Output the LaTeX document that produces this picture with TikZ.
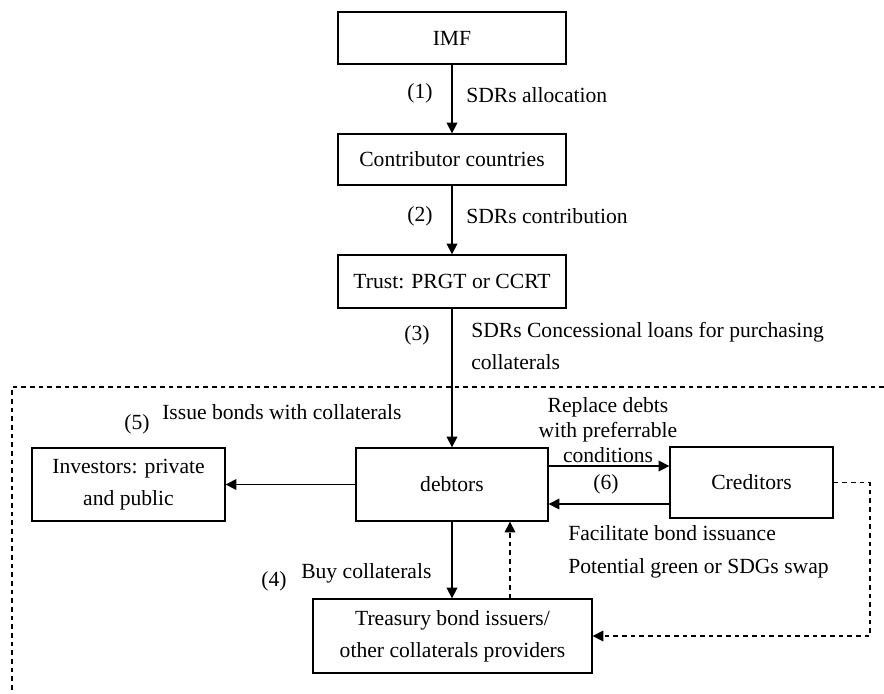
\documentclass[tikz,border=0pt]{standalone}
\usepackage{fontspec}
\setmainfont{Liberation Serif}
\usetikzlibrary{arrows.meta,calc}
\begin{document}
\begin{tikzpicture}[x=0.75pt,y=-0.75pt,
 box/.style={draw,line width=1pt,inner sep=0pt,align=center,font=\fontsize{16.2}{24}\selectfont},
 lbl/.style={inner sep=0pt,font=\fontsize{16.2}{24}\selectfont},
 arr/.style={line width=1pt,-{Triangle[length=8pt,width=8pt]}},
 dsh/.style={dash pattern=on 3.5pt off 3pt}]
\useasboundingbox (0,0) rectangle (884,693);
% frame
\draw[dsh,line width=0.8pt] (884,387) -- (12,387) -- (12,693);
% boxes
\node[box,minimum width=171pt,minimum height=39pt] (imf) at (452,38) {IMF};
\node[box,minimum width=171pt,minimum height=38.25pt] (contrib) at (452,159.5) {Contributor countries};
\node[box,minimum width=171pt,minimum height=39.75pt] (trust) at (452,281.5) {Trust: PRGT or CCRT};
\node[box,minimum width=144.75pt,minimum height=54.75pt] (inv) at (128.5,484.5) {Investors: private\\and public};
\node[box,minimum width=144pt,minimum height=54.75pt] (debt) at (452,484.5) {debtors};
\node[box,minimum width=122.25pt,minimum height=53.25pt] (cred) at (751.5,482.5) {Creditors};
\node[box,minimum width=209.25pt,minimum height=55.5pt] (treas) at (452.5,636) {Treasury bond issuers/\\other collaterals providers};
% arrows
\draw[arr] (imf) -- (contrib);
\draw[arr] (contrib) -- (trust);
\draw[arr] (trust) -- (debt);
\draw[arr] (debt.west) -- (inv.east);
\coordinate (dc1) at ([yshift=13.875pt]debt.east);
\draw[arr] (dc1) -- (dc1 -| cred.west);
\coordinate (cd1) at ([yshift=-16.125pt]cred.west);
\draw[arr] (cd1) -- (cd1 -| debt.east);
\draw[arr] (debt.south) -- (debt.south |- treas.north);
\coordinate (dt) at ([xshift=43.5pt]debt.south);
\draw[arr,dsh] (dt |- treas.north) -- (dt);
\coordinate (cr) at (870,482);
\draw[arr,dsh] (cred.east) -- (cred.east -| cr) -- (cr |- treas.east) -- (treas.east);
% labels
\node[lbl] (n1) at (420,93) {(1)};
\node[lbl,anchor=west] (l1) at (466,95) {SDRs allocation};
\node[lbl] (n2) at (420,216) {(2)};
\node[lbl,anchor=west] (l2) at (466,216) {SDRs contribution};
\node[lbl] (n3) at (417,335) {(3)};
\node[lbl,anchor=west,align=left] (l3) at (471,345.5) {SDRs Concessional loans for purchasing\\collaterals};
\node[lbl] (n5) at (137,424) {(5)};
\node[lbl,anchor=west] (l5) at (162,412) {Issue bonds with collaterals};
\node[lbl,align=center,font=\fontsize{16.2}{19}\selectfont] (l6a) at (608,430) {Replace debts\\with preferrable\\conditions};
\node[lbl] (n6) at (606,484) {(6)};
\node[lbl,anchor=west,align=left,font=\fontsize{16.2}{24.75}\selectfont] (l6b) at (568,551.5) {Facilitate bond issuance\\Potential green or SDGs swap};
\node[lbl] (n4) at (274,581) {(4)};
\node[lbl,anchor=west] (l4) at (301,573) {Buy collaterals};
\end{tikzpicture}
\end{document}
